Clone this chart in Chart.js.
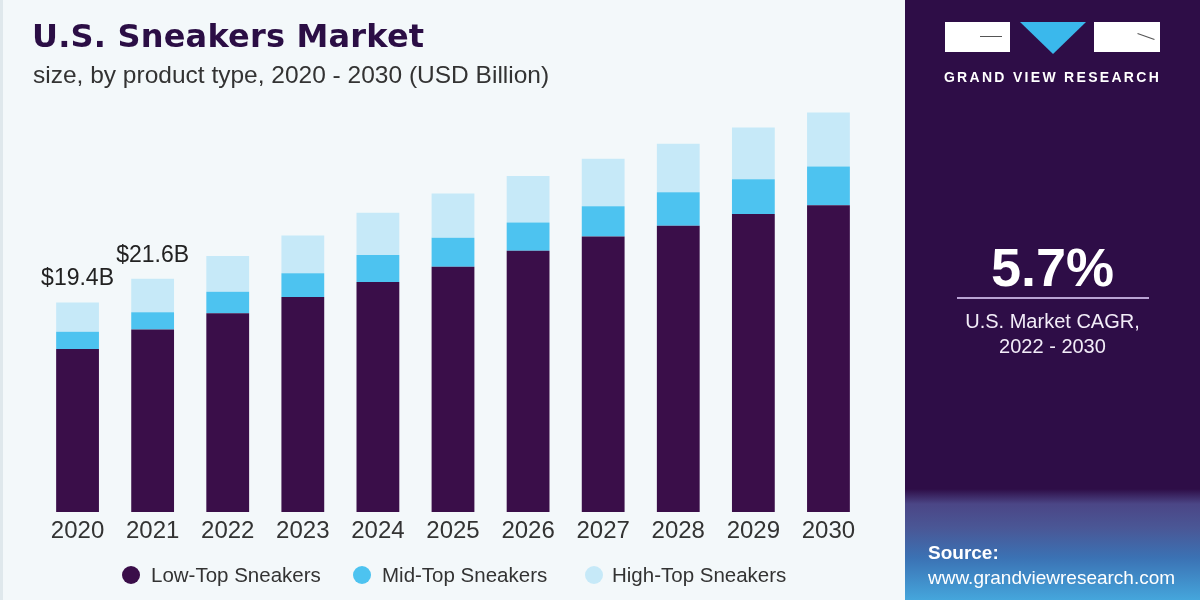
<!DOCTYPE html>
<html>
<head>
<meta charset="utf-8">
<script src="https://cdn.jsdelivr.net/npm/chart.js@4.4.1/dist/chart.umd.min.js"></script>
<style>
  html, body { margin: 0; padding: 0; }
  body { width: 1200px; height: 600px; position: relative; overflow: hidden; background: #f3f8fa; font-family: "Liberation Sans", Arial, sans-serif; }
  #left { position: absolute; left: 0; top: 0; width: 905px; height: 600px; background: #f3f8fa; border-left: 3px solid #dfe8ec; box-sizing: border-box; }
  #chartWrap { position: absolute; left: 0; top: 0; width: 905px; height: 600px; }
  #title { position: absolute; left: 32px; top: 17px; font-family: "DejaVu Sans", sans-serif; font-size: 32px; font-weight: bold; color: #2b0e45; letter-spacing: 0.2px; }
  #subtitle { position: absolute; left: 33px; top: 61px; font-size: 24.5px; color: #333; }
  #legend { position: absolute; left: 0; top: 0; width: 905px; height: 600px; pointer-events: none; }
  .lg { position: absolute; top: 562px; font-size: 20.5px; color: #333; line-height: 26px; white-space: nowrap; }
  .dot { position: absolute; top: 566px; width: 18px; height: 18px; border-radius: 50%; }
  #right { position: absolute; left: 905px; top: 0; width: 295px; height: 600px;
    background: linear-gradient(to bottom, #2e0d47 0%, #2e0d47 81.5%, #4b4686 84%, #4a5796 88%, #3b72b4 93%, #45a6dc 100%); }
  .box { position: absolute; background: #fff; }
  .tick { position: absolute; background: #555; height: 1px; }
  #tri { position: absolute; left: 115px; top: 22px; width: 0; height: 0;
    border-left: 33px solid transparent; border-right: 33px solid transparent; border-top: 32px solid #3ab8ec; }
  #brand { position: absolute; left: 0; width: 295px; top: 69px; text-align: center; color: #fff; font-weight: bold; font-size: 14px; letter-spacing: 2.3px; }
  #cagr { position: absolute; left: 0; width: 295px; top: 236px; text-align: center; color: #fff; font-weight: bold; font-size: 54px; }
  #rule { position: absolute; left: 52px; width: 192px; top: 297px; height: 2px; background: #b9a3d4; }
  #cagrText { position: absolute; left: 0; width: 295px; top: 309px; text-align: center; color: #f2ecf8; font-size: 20px; line-height: 25px; }
  #src { position: absolute; left: 23px; top: 540px; color: #fff; font-size: 19px; line-height: 25px; }
</style>
</head>
<body>
<div id="left"></div>
<div id="chartWrap"><canvas id="c" width="905" height="600"></canvas></div>
<div id="title">U.S. Sneakers Market</div>
<div id="subtitle">size, by product type, 2020 - 2030 (USD Billion)</div>
<div id="legend"></div>
<div id="right">
  <div class="box" style="left:40px;top:22px;width:65px;height:30px;"></div>
  <div class="tick" style="left:75px;top:36px;width:22px;"></div>
  <div id="tri"></div>
  <div class="box" style="left:189px;top:22px;width:66px;height:30px;"></div>
  <div class="tick" style="left:232px;top:36px;width:18px;transform:rotate(20deg);"></div>
  <div id="brand">GRAND VIEW RESEARCH</div>
  <div id="cagr">5.7%</div>
  <div id="rule"></div>
  <div id="cagrText">U.S. Market CAGR,<br>2022 - 2030</div>
  <div id="src"><b>Source:</b><br>www.grandviewresearch.com</div>
</div>
<script>
const years = ["2020","2021","2022","2023","2024","2025","2026","2027","2028","2029","2030"];
const seriesNames = ["Low-Top Sneakers", "Mid-Top Sneakers", "High-Top Sneakers"];
const lowTop  = [15.1, 16.9, 18.4, 19.9, 21.3, 22.7, 24.2, 25.5, 26.5, 27.6, 28.4];
const midTop  = [1.6, 1.6, 2.0, 2.2, 2.5, 2.7, 2.6, 2.8, 3.1, 3.2, 3.6];
const highTop = [2.7, 3.1, 3.3, 3.5, 3.9, 4.1, 4.3, 4.4, 4.5, 4.8, 5.0];
const totalLabels = {0: "$19.4B", 1: "$21.6B"};
const colors = ['#3a0e49', '#4dc3f0', '#c6e9f8'];

const labelPlugin = {
  id: 'totals',
  afterDatasetsDraw(chart) {
    const ctx = chart.ctx;
    const meta = chart.getDatasetMeta(2);
    const xs = chart.scales.x;
    ctx.save();
    // category (year) labels under the bars, placed by the x scale
    ctx.font = '24px "Liberation Sans", Arial, sans-serif';
    ctx.fillStyle = '#333';
    ctx.textAlign = 'center';
    ctx.textBaseline = 'middle';
    years.forEach((y, i) => {
      ctx.fillText(y, xs.getPixelForValue(i), chart.chartArea.bottom + 19);
    });
    // total value labels
    ctx.font = '23px "Liberation Sans", Arial, sans-serif';
    ctx.fillStyle = '#222';
    ctx.textBaseline = 'alphabetic';
    Object.keys(totalLabels).forEach(k => {
      const bar = meta.data[k];
      ctx.fillText(totalLabels[k], bar.x, bar.y - 17);
    });
    ctx.restore();
  }
};

// HTML legend built from series names and colours
const legendPos = [{dot: 122, text: 151}, {dot: 353, text: 382}, {dot: 585, text: 612}];
const lg = document.getElementById('legend');
seriesNames.forEach((n, i) => {
  const d = document.createElement('div');
  d.className = 'dot'; d.style.left = legendPos[i].dot + 'px'; d.style.background = colors[i];
  lg.appendChild(d);
  const t = document.createElement('div');
  t.className = 'lg'; t.style.left = legendPos[i].text + 'px'; t.textContent = n;
  lg.appendChild(t);
});

new Chart(document.getElementById('c'), {
  type: 'bar',
  data: {
    labels: years,
    datasets: [
      { label: seriesNames[0], data: lowTop, backgroundColor: colors[0] },
      { label: seriesNames[1], data: midTop, backgroundColor: colors[1] },
      { label: seriesNames[2], data: highTop, backgroundColor: colors[2] }
    ]
  },
  options: {
    responsive: false,
    animation: false,
    layout: { padding: { left: 40, right: 39, top: 80, bottom: 88 } },
    datasets: { bar: { categoryPercentage: 0.57, barPercentage: 1.0 } },
    scales: {
      x: { stacked: true, display: false },
      y: { stacked: true, display: false, min: 0, max: 40 }
    },
    plugins: {
      legend: { display: false },
      tooltip: { enabled: false }
    }
  },
  plugins: [labelPlugin]
});
</script>
</body>
</html>
